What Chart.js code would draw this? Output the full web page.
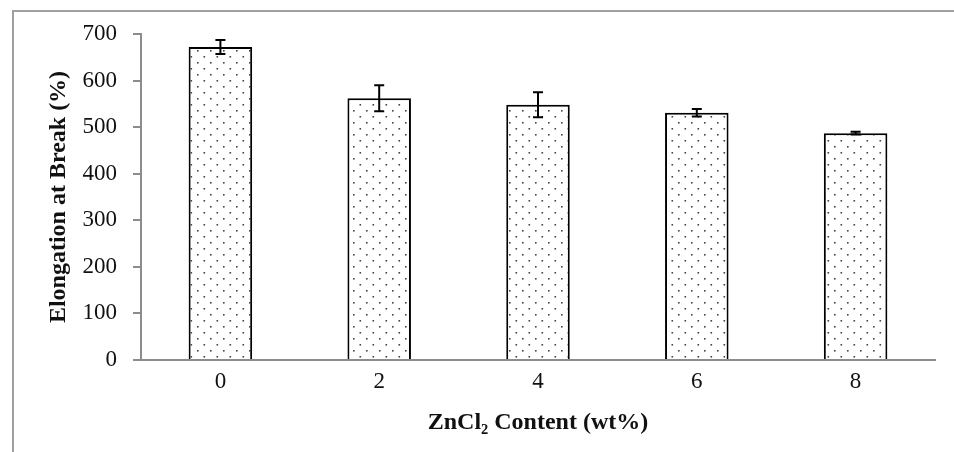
<!DOCTYPE html>
<html>
<head>
    <title>Elongation at Break vs ZnCl2 Content</title>
    <script src="https://cdn.jsdelivr.net/npm/chart.js@4.4.1/dist/chart.umd.min.js"></script>
    <style>
        html, body {
            margin: 0;
            padding: 0;
            background: white;
        }
        .wrap {
            position: relative;
            width: 954px;
            height: 452px;
        }
        .frame {
            position: absolute;
            left: 12px;
            top: 10px;
            right: 0;
            bottom: 0;
            border-left: 2px solid #a0a0a0;
            border-top: 2px solid #a0a0a0;
        }
        canvas {
            position: absolute;
            left: 0;
            top: 0;
        }
    </style>
</head>
<body>
    <div class="wrap">
        <div class="frame"></div>
        <canvas id="chart" width="954" height="452"></canvas>
    </div>

    <script>
        // Data
        const categories = ['0', '2', '4', '6', '8'];
        const elongation = [672, 562, 548, 531, 487];
        const errors = [15, 28, 27, 8, 3];
        const yTicks = [0, 100, 200, 300, 400, 500, 600, 700];

        const serif = "'Liberation Serif', 'Times New Roman', serif";

        // Dotted fill like the original
        function dotPattern() {
            const c = document.createElement('canvas');
            c.width = 13;
            c.height = 12;
            const g = c.getContext('2d');
            g.fillStyle = '#ffffff';
            g.fillRect(0, 0, 13, 12);
            g.fillStyle = '#444444';
            g.fillRect(2, 2, 1.6, 1.6);
            g.fillRect(8.5, 8, 1.6, 1.6);
            return g.createPattern(c, 'repeat');
        }

        // Error bars drawn through the scales
        const errorBars = {
            id: 'errorBars',
            afterDatasetsDraw(chart) {
                const ctx = chart.ctx;
                const y = chart.scales.y;
                const meta = chart.getDatasetMeta(0);
                ctx.save();
                ctx.strokeStyle = '#000';
                ctx.lineWidth = 2;
                meta.data.forEach((bar, i) => {
                    const top = y.getPixelForValue(elongation[i] + errors[i]);
                    const bot = y.getPixelForValue(elongation[i] - errors[i]);
                    ctx.beginPath();
                    ctx.moveTo(bar.x, top);
                    ctx.lineTo(bar.x, bot);
                    ctx.moveTo(bar.x - 5, top);
                    ctx.lineTo(bar.x + 5, top);
                    ctx.moveTo(bar.x - 5, bot);
                    ctx.lineTo(bar.x + 5, bot);
                    ctx.stroke();
                });
                ctx.restore();
            }
        };

        new Chart(document.getElementById('chart'), {
            type: 'bar',
            data: {
                labels: categories,
                datasets: [{
                    data: elongation,
                    backgroundColor: dotPattern(),
                    borderColor: '#000',
                    borderWidth: 2,
                    barPercentage: 0.4,
                    categoryPercentage: 1
                }]
            },
            options: {
                responsive: false,
                animation: false,
                layout: {
                    padding: { left: 0, right: 19, top: 34, bottom: 0 }
                },
                plugins: {
                    legend: { display: false },
                    tooltip: { enabled: false }
                },
                scales: {
                    x: {
                        grid: { display: false, drawTicks: false },
                        border: { display: true, color: '#8c8c8c', width: 2 },
                        ticks: {
                            color: '#111',
                            padding: 8,
                            font: { family: serif, size: 23 }
                        },
                        title: {
                            display: true,
                            text: 'ZnCl₂ Content (wt%)',
                            color: '#111',
                            padding: { top: 0, bottom: 15 },
                            font: { family: serif, size: 24, weight: 'bold' }
                        },
                        afterFit(scale) { scale.height = 92; }
                    },
                    y: {
                        min: 0,
                        max: 700,
                        afterBuildTicks(scale) {
                            scale.ticks = yTicks.map(v => ({ value: v }));
                        },
                        grid: {
                            drawOnChartArea: false,
                            color: '#8c8c8c',
                            lineWidth: 2,
                            tickLength: 8
                        },
                        border: { display: true, color: '#8c8c8c', width: 2 },
                        ticks: {
                            color: '#111',
                            padding: 16,
                            font: { family: serif, size: 23 }
                        },
                        title: {
                            display: true,
                            text: 'Elongation at Break (%)',
                            color: '#111',
                            padding: { top: 44, bottom: 0 },
                            font: { family: serif, size: 24, weight: 'bold' }
                        },
                        afterFit(scale) { scale.width = 141; }
                    }
                }
            },
            plugins: [errorBars]
        });
    </script>
</body>
</html>
